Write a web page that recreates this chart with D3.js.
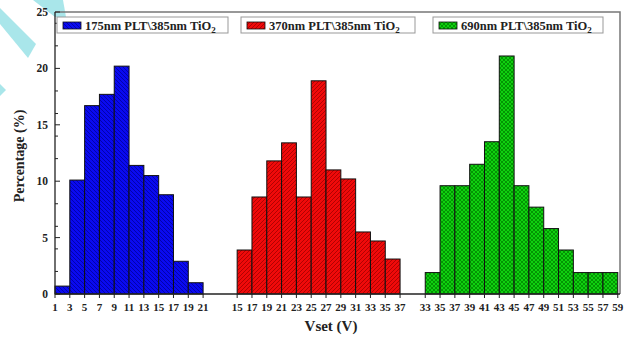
<!DOCTYPE html>
<html>
<head>
<meta charset="utf-8">
<script src="https://cdn.jsdelivr.net/npm/d3@7"></script>
<style>
  body { margin: 0; background: #fff; }
  text { font-family: "Liberation Serif", "Times New Roman", serif; font-weight: bold; }
</style>
</head>
<body>
<div id="main"></div>
<script>
// data
var blueEdges = [1, 3, 5, 7, 9, 11, 13, 15, 17, 19, 21];
var blueValues = [0.7, 10.1, 16.7, 17.7, 20.2, 11.4, 10.5, 8.8, 2.9, 1.0];
var redEdges = [15, 17, 19, 21, 23, 25, 27, 29, 31, 33, 35, 37];
var redValues = [3.9, 8.6, 11.8, 13.4, 8.6, 18.9, 11.0, 10.2, 5.5, 4.7, 3.1];
var greenEdges = [33, 35, 37, 39, 41, 43, 45, 47, 49, 51, 53, 55, 57, 59];
var greenValues = [1.9, 9.6, 9.6, 11.5, 13.5, 21.1, 9.6, 7.7, 5.8, 3.9, 1.9, 1.9, 1.9];
var seriesNames = ["175nm PLT\\385nm TiO", "370nm PLT\\385nm TiO", "690nm PLT\\385nm TiO"];
var yTicks = [0, 5, 10, 15, 20, 25];

var width = 631, height = 337;
var margin = { top: 12, right: 11, bottom: 43, left: 55 };

var svg = d3.select("#main").append("svg")
    .attr("width", width)
    .attr("height", height);

// cyan stripes in the top left corner of the scan
var stripes = svg.append("g").attr("fill", "#a9e6ea");
stripes.append("polygon").attr("points", "33,0 63,0 66,17 55,17");
stripes.append("polygon").attr("points", "0,8 0,24 28,58 36,44");
stripes.append("polygon").attr("points", "0,84 0,96 6,90");

var defs = svg.append("defs");
function hatch(id, color, lineColor, d) {
    var p = defs.append("pattern").attr("id", id)
        .attr("patternUnits", "userSpaceOnUse").attr("width", 4).attr("height", 4);
    p.append("rect").attr("width", 4).attr("height", 4).attr("fill", color);
    p.append("path").attr("d", d).attr("stroke", lineColor).attr("stroke-width", 0.8).attr("fill", "none");
}
hatch("pBlue", "#0a0af0", "#00009a", "M-1,-1 L5,5 M3,-1 L5,1 M-1,3 L1,5");
hatch("pRed", "#f00a0a", "#a00000", "M-1,5 L5,-1 M-1,1 L1,-1 M3,5 L5,3");
hatch("pGreen", "#10d010", "#008800", "M-1,5 L5,-1 M-1,1 L1,-1 M3,5 L5,3 M-1,-1 L5,5 M3,-1 L5,1 M-1,3 L1,5");

// slot scale: each bin is one unit, groups placed side by side with gaps
var groups = [
    { edges: blueEdges, values: blueValues, offset: 0, fill: "url(#pBlue)" },
    { edges: redEdges, values: redValues, offset: 12.3, fill: "url(#pRed)" },
    { edges: greenEdges, values: greenValues, offset: 25, fill: "url(#pGreen)" }
];
var xAxis = d3.scaleLinear().domain([0, 38.15]).range([margin.left, width - margin.right]);
var yAxis = d3.scaleLinear().domain([0, 25]).range([height - margin.bottom, margin.top]);

// bars
groups.forEach(function (g) {
    svg.append("g").selectAll("rect")
        .data(g.values)
        .enter().append("rect")
        .attr("x", function (d, i) { return xAxis(g.offset + i); })
        .attr("width", function (d, i) { return xAxis(g.offset + i + 1) - xAxis(g.offset + i); })
        .attr("y", function (d) { return yAxis(d); })
        .attr("height", function (d) { return yAxis(0) - yAxis(d); })
        .attr("fill", g.fill)
        .attr("stroke", "#111")
        .attr("stroke-width", 1);
});

// frame (top and right)
svg.append("path")
    .attr("d", "M" + xAxis(0) + "," + yAxis(25) + "H" + xAxis(38.15) + "V" + yAxis(0))
    .attr("fill", "none").attr("stroke", "#777").attr("stroke-width", 1.5);

// x axis: one group of ticks per series
var xg = svg.append("g");
xg.append("line")
    .attr("x1", xAxis(0)).attr("x2", xAxis(38.15))
    .attr("y1", yAxis(0)).attr("y2", yAxis(0))
    .attr("stroke", "#222").attr("stroke-width", 1.3);
groups.forEach(function (g) {
    var t = xg.append("g").selectAll("g")
        .data(g.edges)
        .enter().append("g")
        .attr("transform", function (d, i) { return "translate(" + xAxis(g.offset + i) + "," + yAxis(0) + ")"; });
    t.append("line").attr("y2", 4).attr("stroke", "#222").attr("stroke-width", 1);
    t.append("text").attr("y", 17).attr("text-anchor", "middle")
        .attr("font-size", "11px").attr("fill", "#222")
        .text(function (d) { return d; });
});

// y axis, ticks pointing inward
var yg = svg.append("g").attr("transform", "translate(" + margin.left + ",0)");
yg.append("line").attr("y1", yAxis(0)).attr("y2", yAxis(25)).attr("stroke", "#222").attr("stroke-width", 1.3);
var yt = yg.selectAll(".ytick").data(yTicks).enter().append("g")
    .attr("transform", function (d) { return "translate(0," + yAxis(d) + ")"; });
yt.append("line").attr("x2", 5).attr("stroke", "#222");
yt.append("text").attr("x", -7).attr("dy", "0.35em").attr("text-anchor", "end")
    .attr("font-size", "11.5px").attr("fill", "#222")
    .text(function (d) { return d; });
yg.selectAll(".minor").data(yAxis.ticks(10).filter(function (d) { return d % 5 != 0; }))
    .enter().append("line")
    .attr("y1", function (d) { return yAxis(d); }).attr("y2", function (d) { return yAxis(d); })
    .attr("x2", 3).attr("stroke", "#222");

// axis titles
svg.append("text")
    .attr("transform", "translate(24,156) rotate(-90)")
    .attr("text-anchor", "middle").attr("font-size", "14px").attr("fill", "#222")
    .text("Percentage (%)");
svg.append("text")
    .attr("x", 331).attr("y", 331)
    .attr("text-anchor", "middle").attr("font-size", "15px").attr("fill", "#222")
    .text("Vset (V)");

// legends
var legendBoxes = [[57, 228], [241, 415], [433, 603]];
groups.forEach(function (g, i) {
    var b = legendBoxes[i];
    var lg = svg.append("g");
    lg.append("rect").attr("x", b[0]).attr("y", 17).attr("width", b[1] - b[0]).attr("height", 16)
        .attr("fill", "#fff").attr("stroke", "#999").attr("stroke-width", 1);
    lg.append("rect").attr("x", b[0] + 6).attr("y", 22).attr("width", 18).attr("height", 7)
        .attr("fill", g.fill).attr("stroke", "#111").attr("stroke-width", 0.8);
    var txt = lg.append("text").attr("x", b[0] + 28).attr("y", 29.5)
        .attr("font-size", "12.5px").attr("fill", "#222");
    txt.append("tspan").text(seriesNames[i]);
    txt.append("tspan").attr("dy", 3).attr("font-size", "9px").text("2");
});
</script>
</body>
</html>
